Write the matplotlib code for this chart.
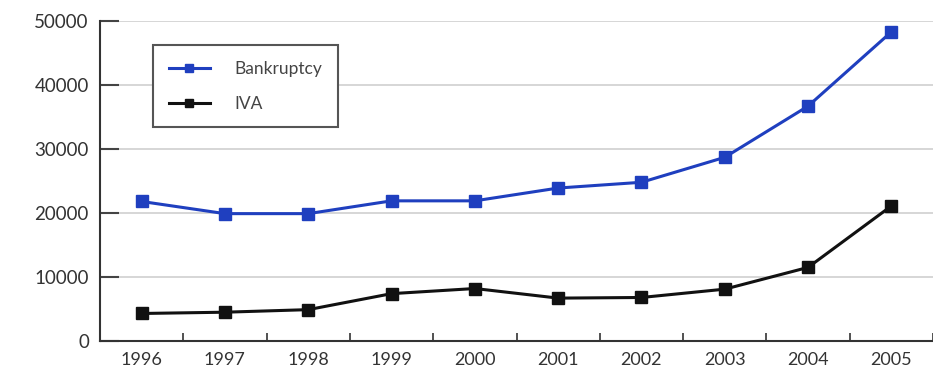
import matplotlib.pyplot as plt

years = ['1996', '1997', '1998', '1999', '2000', '2001', '2002', '2003', '2004', '2005']
bankruptcy = [21800, 19900, 19900, 21900, 21900, 23900, 24800, 28700, 36700, 48300]
iva = [4300, 4500, 4900, 7400, 8200, 6700, 6800, 8100, 11500, 21100]

plt.rcParams['font.family'] = ['Lato', 'DejaVu Sans']

fig = plt.figure(figsize=(9.33, 3.69), dpi=100)
ax = fig.add_axes([100 / 933, 28 / 369, 833 / 933, 320 / 369])

x = list(range(len(years)))
ax.plot(x, bankruptcy, color='#1f3fbf', marker='s', markersize=8.5, linewidth=2.2, label='Bankruptcy')
ax.plot(x, iva, color='#111111', marker='s', markersize=8.5, linewidth=2.2, label='IVA')

ax.set_xlim(-0.5, 9.5)
ax.set_ylim(0, 50000)
ax.set_yticks(range(0, 50001, 10000))
ax.set_yticklabels([str(v) for v in range(0, 50001, 10000)], fontsize=13.5, color='#333333')
ax.set_xticks([i + 0.5 for i in range(-1, 10)])
ax.set_xticklabels([])
ax.set_xticks(x, minor=True)
ax.set_xticklabels(years, minor=True, fontsize=13, color='#333333')
ax.tick_params(axis='x', which='major', direction='in', length=6, width=1.2, color='#333333')
ax.tick_params(axis='x', which='minor', length=0, pad=8)
ax.tick_params(axis='y', direction='in', length=14, width=1.5, color='#444444', pad=8)

ax.grid(axis='y', color='#cfcfcf', linewidth=1.2)
ax.set_axisbelow(True)
for side in ['top', 'right']:
    ax.spines[side].set_visible(False)
for side in ['left', 'bottom']:
    ax.spines[side].set_color('#333333')
    ax.spines[side].set_linewidth(1.5)

leg = ax.legend(loc='upper left', bbox_to_anchor=(53 / 833, 1 - 24 / 320), borderaxespad=0,
                fontsize=12.5, frameon=True, fancybox=False, edgecolor='#555555', framealpha=1,
                markerscale=0.6, handlelength=2.4, handletextpad=1.4, borderpad=0.9,
                labelspacing=1.1)
leg.get_frame().set_linewidth(1.5)
for t in leg.get_texts():
    t.set_color('#444444')

fig.savefig('out.png', dpi=100)
